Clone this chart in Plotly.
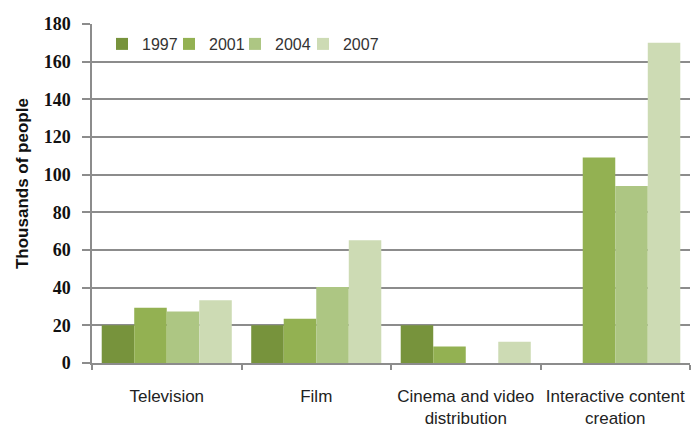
import plotly.graph_objects as go

categories = ["Television", "Film", "Cinema and video<br>distribution", "Interactive content<br>creation"]
years = ["1997", "2001", "2004", "2007"]
values_1997 = [20, 20, 20, 0]
values_2001 = [29.4, 23.5, 8.7, 109.1]
values_2004 = [27.4, 40.3, 0, 94]
values_2007 = [33.3, 65.2, 11.3, 170]
colors = ["#77933c", "#93b152", "#adc683", "#cddbb4"]

series = [values_1997, values_2001, values_2004, values_2007]

# one legend box per series so the entries sit at fixed positions along the top
legend_ids = ["legend", "legend2", "legend3", "legend4"]
legend_x = [0.0167, 0.1288, 0.2391, 0.3528]

fig = go.Figure()
for year, vals, col, lid in zip(years, series, colors, legend_ids):
    fig.add_trace(go.Bar(name=year, x=categories, y=vals, legend=lid, showlegend=True,
                         marker=dict(color=col, line=dict(width=0))))

legend_style = dict(orientation="h", y=0.941, xanchor="left", yanchor="middle",
                    font=dict(family="Liberation Sans", size=16, color="#333"),
                    bgcolor="rgba(0,0,0,0)", borderwidth=0)

fig.update_layout(
    width=691, height=427,
    margin=dict(l=92, r=1, t=24, b=64),
    paper_bgcolor="white", plot_bgcolor="white",
    showlegend=True,
    barmode="group", bargap=0.13, bargroupgap=0,
    font=dict(family="Liberation Sans", color="#222"),
    **{lid: dict(x=lx, **legend_style) for lid, lx in zip(legend_ids, legend_x)},
)
# vertical axis title placed as a rotated annotation left of the tick labels
fig.add_annotation(
    text="Thousands of people", textangle=-90, showarrow=False,
    xref="paper", yref="paper", x=-0.117, y=0.528, xanchor="center", yanchor="middle",
    font=dict(family="Liberation Sans", size=17, color="#111", weight="bold"),
)
fig.update_yaxes(
    range=[0, 180], dtick=20, showgrid=True, gridcolor="#8c8c8c", gridwidth=1.5,
    showline=True, linecolor="#8c8c8c", linewidth=1.5,
    ticks="outside", ticklen=8, tickcolor="#8c8c8c", tickwidth=1.5,
    ticklabelstandoff=8, automargin=False,
    tickfont=dict(family="Liberation Serif", size=18, color="#111", weight="bold"),
    zeroline=False,
)
fig.update_xaxes(
    showline=True, linecolor="#8c8c8c", linewidth=1.5,
    ticks="outside", tickson="boundaries", ticklen=5, tickcolor="#8c8c8c", tickwidth=1.5,
    ticklabelstandoff=17, automargin=False,
    tickfont=dict(family="Liberation Sans", size=17, color="#222"),
)

fig.write_html("out.html")
